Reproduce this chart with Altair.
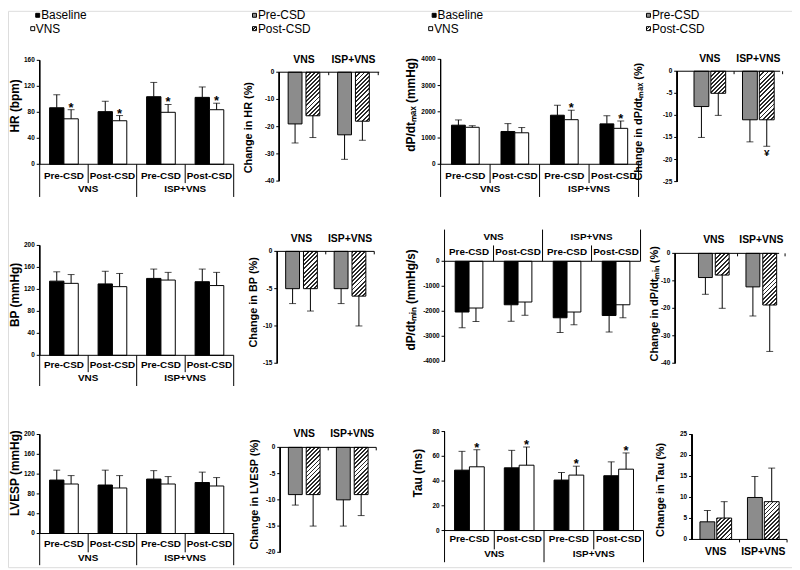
import altair as alt
import pandas as pd

FONT = "Liberation Sans"
OX, OY = 8, 8  # page margin -> view coordinates

# ---------------- categories ----------------
slots = ["VNS Pre-CSD", "VNS Post-CSD", "ISP+VNS Pre-CSD", "ISP+VNS Post-CSD"]
slot_phase = ["Pre-CSD", "Post-CSD", "Pre-CSD", "Post-CSD"]
group_names = ["VNS", "ISP+VNS"]
group_first_slot = ["VNS Pre-CSD", "ISP+VNS Pre-CSD"]
conds = ["Baseline", "VNS"]
phases = ["Pre-CSD", "Post-CSD"]

# ---------------- HR ----------------
hr_base = [87, 81, 104, 103]
hr_base_err = [107, 97, 126, 119]
hr_vns = [70, 67, 80, 84]
hr_vns_err = [84, 75, 92, 94]
hr_star = [1, 1, 1, 1]
hr_ticks = [0, 40, 80, 120, 160]
hr_chg_pre = [-19, -23]
hr_chg_pre_err = [-26, -32]
hr_chg_post = [-16, -18]
hr_chg_post_err = [-24, -25]
hr_chg_ticks = [0, -10, -20, -30, -40]

# ---------------- dP/dt max ----------------
dpmax_base = [1490, 1250, 1870, 1540]
dpmax_base_err = [1690, 1550, 2250, 1850]
dpmax_vns = [1410, 1200, 1700, 1370]
dpmax_vns_err = [1470, 1400, 2060, 1650]
dpmax_star = [0, 0, 1, 1]
dpmax_ticks = [0, 1000, 2000, 3000, 4000]
dpmax_chg_pre = [-8, -11]
dpmax_chg_pre_err = [-15, -16]
dpmax_chg_post = [-5, -11]
dpmax_chg_post_err = [-10, -17]
dpmax_chg_mark = ["", "¥"]
dpmax_chg_ticks = [0, -5, -10, -15, -20, -25]

# ---------------- BP ----------------
bp_base = [135, 130, 140, 134]
bp_base_err = [152, 153, 157, 157]
bp_vns = [131, 125, 137, 127]
bp_vns_err = [147, 149, 151, 151]
bp_star = [0, 0, 0, 0]
bp_ticks = [0, 40, 80, 120, 160, 200]
bp_chg_pre = [-5, -5]
bp_chg_pre_err = [-7, -7]
bp_chg_post = [-5, -6]
bp_chg_post_err = [-8, -10]
bp_chg_ticks = [0, -5, -10, -15]

# ---------------- dP/dt min ----------------
dpmin_base = [-2030, -1740, -2260, -2170]
dpmin_base_err = [-2660, -2400, -2850, -2830]
dpmin_vns = [-1870, -1630, -2030, -1740]
dpmin_vns_err = [-2410, -2160, -2540, -2260]
dpmin_star = [0, 0, 0, 0]
dpmin_ticks = [0, -1000, -2000, -3000, -4000]
dpmin_chg_pre = [-8.8, -12.2]
dpmin_chg_pre_err = [-14.9, -22.8]
dpmin_chg_post = [-7.9, -18.8]
dpmin_chg_post_err = [-20, -35.7]
dpmin_chg_ticks = [0, -10, -20, -30, -40]

# ---------------- LVESP ----------------
lv_base = [108, 98, 110, 103]
lv_base_err = [128, 128, 127, 124]
lv_vns = [100, 92, 100, 96]
lv_vns_err = [117, 117, 115, 113]
lv_star = [0, 0, 0, 0]
lv_ticks = [0, 40, 80, 120, 160, 200]
lv_chg_pre = [-9, -10]
lv_chg_pre_err = [-11, -15]
lv_chg_post = [-9, -9]
lv_chg_post_err = [-15, -13]
lv_chg_ticks = [0, -5, -10, -15, -20]

# ---------------- Tau ----------------
tau_base = [48.8, 50.7, 40.8, 44.3]
tau_base_err = [64, 64.8, 46.9, 55.5]
tau_vns = [51.5, 52.8, 44.8, 49.6]
tau_vns_err = [65.3, 67.5, 52, 62.7]
tau_star = [1, 1, 1, 1]
tau_ticks = [0, 20, 40, 60, 80]
tau_chg_pre = [4.2, 10]
tau_chg_pre_err = [6.9, 15]
tau_chg_post = [5.1, 9]
tau_chg_post_err = [9, 17]
tau_chg_ticks = [0, 5, 10, 15, 20, 25]

legend_main = ["Baseline", "VNS"]
legend_chg = ["Pre-CSD", "Post-CSD"]

GRAY = "#8c8c8c"


def hatch_gradient(w, h, period=3.0, dark="#2a2a2a", light="#ffffff", frac=0.45):
    L = (w + h) / 2 ** 0.5
    n = max(1, int(round(L / period)))
    stops = []
    for i in range(n):
        a, b, c = i / n, (i + frac) / n, (i + 1) / n
        stops += [alt.GradientStop(color=dark, offset=a), alt.GradientStop(color=dark, offset=b),
                  alt.GradientStop(color=light, offset=b), alt.GradientStop(color=light, offset=c)]
    k = (w + h) / (w * w + h * h)
    return alt.LinearGradient(gradient="linear", stops=stops, x1=0, y1=0, x2=w * k, y2=h * k)


def axis_layers(g, ys, ticks, title_fs):
    ax = g["axis_x"] - OX
    tv = pd.DataFrame({"v": ticks, "lab": [str(t) for t in ticks]})
    Yv = alt.Y("v:Q", scale=ys, axis=None)
    out = []
    out.append(alt.Chart(tv).mark_rule(color="black", strokeWidth=1).encode(
        x=alt.value(ax), y=alt.YDatum(g["ydom"][0], type="quantitative", scale=ys, axis=None),
        y2=alt.datum(g["ydom"][1])))
    out.append(alt.Chart(tv).mark_rule(color="black", strokeWidth=1).encode(
        x=alt.value(ax - 3), x2=alt.value(ax), y=Yv))
    out.append(alt.Chart(tv).mark_text(align="right", baseline="middle", font=FONT, fontSize=6.5,
                                       fontWeight="bold", color="black").encode(
        x=alt.value(ax - 5), y=Yv, text="lab:N"))
    out.append(alt.Chart(pd.DataFrame({"t": [g["title"]]})).mark_text(
        angle=270, align="center", baseline="middle", font=FONT, fontSize=title_fs, fontWeight="bold",
        color="black").encode(x=alt.value(g["tx"] - OX), y=alt.value(g["ty"] - OY), text="t:N"))
    return out


def make_main(base, base_err, vns, vns_err, star, ticks, g):
    rows = []
    for i in range(4):
        rows.append({"slot": slots[i], "cond": conds[0], "value": base[i], "err": base_err[i], "star": 0})
        rows.append({"slot": slots[i], "cond": conds[1], "value": vns[i], "err": vns_err[i], "star": star[i]})
    df = pd.DataFrame(rows)
    xs = alt.Scale(domain=slots, range=[g["x0"] - OX, g["x1"] - OX], paddingInner=0, paddingOuter=0)
    ys = alt.Scale(domain=g["ydom"], range=[g["ypx"][0] - OY, g["ypx"][1] - OY], nice=False, zero=False)
    xo = alt.XOffset("cond:N", scale=alt.Scale(domain=conds, paddingInner=0, paddingOuter=g["po"]))

    def X(field="slot", bp=None):
        kw = dict(scale=xs, axis=None, title=None)
        if bp is not None:
            kw["bandPosition"] = bp
        return alt.X(f"{field}:N", **kw)

    YD0 = alt.YDatum(0, type="quantitative", scale=ys, axis=None)
    layers = []
    layers.append(alt.Chart(df).transform_filter(alt.datum.cond == conds[0]).mark_bar(
        fill="black", stroke="black", strokeWidth=1).encode(
        x=X(), xOffset=xo, y=alt.Y("value:Q", scale=ys, axis=None), y2=alt.datum(0)))
    layers.append(alt.Chart(df).transform_filter(alt.datum.cond == conds[1]).mark_bar(
        fill="white", stroke="black", strokeWidth=1).encode(
        x=X(), xOffset=xo, y=alt.Y("value:Q", scale=ys, axis=None), y2=alt.datum(0)))
    layers.append(alt.Chart(df).mark_rule(color="black", strokeWidth=1).encode(
        x=X(), xOffset=xo, y=alt.Y("value:Q", scale=ys, axis=None), y2="err:Q"))
    layers.append(alt.Chart(df).mark_tick(color="black", thickness=1, size=7, orient="horizontal").encode(
        x=X(), xOffset=xo, y=alt.Y("err:Q", scale=ys, axis=None)))
    layers.append(alt.Chart(df).transform_filter(alt.datum.star == 1).mark_text(
        text="*", font=FONT, fontSize=13, fontWeight="bold", baseline="alphabetic", dy=2, color="black").encode(
        x=X(), xOffset=xo, y=alt.Y("err:Q", scale=ys, axis=None)))
    # zero line
    layers.append(alt.Chart(pd.DataFrame({"slot": slots[:1]})).mark_rule(color="black", strokeWidth=1).encode(
        y=YD0, x=alt.value(g["x0"] - OX), x2=alt.value(g["x1"] - OX)))
    # category table
    lab = pd.DataFrame({"slot": slots, "phase": slot_phase})
    layers.append(alt.Chart(lab).mark_text(font=FONT, fontSize=10, fontWeight="bold", baseline="middle",
                                           color="black").encode(
        x=X(), y=alt.value(g["lab_y"] - OY), text="phase:N"))
    grp = pd.DataFrame({"slot": group_first_slot, "group": group_names})
    layers.append(alt.Chart(grp).mark_text(font=FONT, fontSize=10, fontWeight="bold", baseline="middle",
                                           color="black").encode(
        x=X(bp=1), y=alt.value(g["grp_y"] - OY), text="group:N"))
    layers.append(alt.Chart(pd.DataFrame({"slot": [slots[1], slots[3]]})).mark_rule(
        color="black", strokeWidth=1).encode(x=X(bp=0), y=YD0, y2=alt.value(g["short_end"] - OY)))
    layers.append(alt.Chart(pd.DataFrame({"slot": [slots[0], slots[2]]})).mark_rule(
        color="black", strokeWidth=1).encode(x=X(bp=0), y=YD0, y2=alt.value(g["full_end"] - OY)))
    layers.append(alt.Chart(pd.DataFrame({"slot": [slots[3]]})).mark_rule(
        color="black", strokeWidth=1).encode(x=X(bp=1), y=YD0, y2=alt.value(g["full_end"] - OY)))
    layers += axis_layers(g, ys, ticks, 12)
    return alt.layer(*layers)


def make_change(pre, pre_err, post, post_err, ticks, g, marks=None):
    rows = []
    for i in range(2):
        rows.append({"group": group_names[i], "phase": phases[0], "value": pre[i], "err": pre_err[i], "mark": ""})
        rows.append({"group": group_names[i], "phase": phases[1], "value": post[i], "err": post_err[i],
                     "mark": marks[i] if marks else ""})
    df = pd.DataFrame(rows)
    xs = alt.Scale(domain=group_names, range=[g["b0"] - OX, g["b1"] - OX], paddingInner=0, paddingOuter=0)
    ys = alt.Scale(domain=g["ydom"], range=[g["ypx"][0] - OY, g["ypx"][1] - OY], nice=False, zero=False)
    xo = alt.XOffset("phase:N", scale=alt.Scale(domain=phases, paddingInner=g["pi"], paddingOuter=g["po"]))

    def X(bp=None):
        kw = dict(scale=xs, axis=None, title=None)
        if bp is not None:
            kw["bandPosition"] = bp
        return alt.X("group:N", **kw)

    YD0 = alt.YDatum(0, type="quantitative", scale=ys, axis=None)
    S = (g["b1"] - g["b0"]) / 2
    s = S / (2 - g["pi"] + 2 * g["po"])
    bw = s * (1 - g["pi"])
    pxu = abs(g["ypx"][0] - g["ypx"][1]) / abs(g["ydom"][1] - g["ydom"][0])
    zero_px = g["ypx"][0] + (0 - g["ydom"][0]) * (g["ypx"][1] - g["ypx"][0]) / (g["ydom"][1] - g["ydom"][0])

    layers = []
    layers.append(alt.Chart(df).transform_filter(alt.datum.phase == phases[0]).mark_bar(
        fill=GRAY, stroke="black", strokeWidth=1).encode(
        x=X(), xOffset=xo, y=alt.Y("value:Q", scale=ys, axis=None), y2=alt.datum(0)))
    for i in range(2):
        grad = hatch_gradient(bw, abs(post[i]) * pxu)
        layers.append(alt.Chart(df).transform_filter(
            (alt.datum.phase == phases[1]) & (alt.datum.group == group_names[i])).mark_bar(
            fill=grad, stroke="black", strokeWidth=1).encode(
            x=X(), xOffset=xo, y=alt.Y("value:Q", scale=ys, axis=None), y2=alt.datum(0)))
    layers.append(alt.Chart(df).mark_rule(color="black", strokeWidth=1).encode(
        x=X(), xOffset=xo, y=alt.Y("value:Q", scale=ys, axis=None), y2="err:Q"))
    layers.append(alt.Chart(df).mark_tick(color="black", thickness=1, size=7, orient="horizontal").encode(
        x=X(), xOffset=xo, y=alt.Y("err:Q", scale=ys, axis=None)))
    if marks:
        layers.append(alt.Chart(df).transform_filter(alt.datum.mark != "").mark_text(
            font=FONT, fontSize=10, fontWeight="bold", baseline="top", dy=2, color="black").encode(
            x=X(), xOffset=xo, y=alt.Y("err:Q", scale=ys, axis=None), text="mark:N"))
    layers.append(alt.Chart(pd.DataFrame({"group": group_names[:1]})).mark_rule(
        color="black", strokeWidth=1).encode(y=YD0, x=alt.value(g["l0"] - OX), x2=alt.value(g["l1"] - OX)))
    layers.append(alt.Chart(pd.DataFrame({"group": group_names[1:]})).mark_rule(
        color="black", strokeWidth=1).encode(x=X(bp=0), y=YD0, y2=alt.value(zero_px - OY + 3)))
    layers.append(alt.Chart(pd.DataFrame({"group": group_names[1:]})).mark_rule(
        color="black", strokeWidth=1).encode(x=X(bp=1), y=YD0, y2=alt.value(zero_px - OY + 3)))
    layers.append(alt.Chart(pd.DataFrame({"group": group_names})).mark_text(
        font=FONT, fontSize=10.5, fontWeight="bold", baseline="middle", color="black").encode(
        x=X(), y=alt.value(g["title_y"] - OY), text="group:N"))
    layers += axis_layers(g, ys, ticks, 11)
    return alt.layer(*layers)


G = {
    "p1": dict(x0=40, x1=236, axis_x=40, ydom=[0, 160], ypx=[163, 58], title="HR (bpm)", tx=15, ty=104,
               po=0.69, lab_y=175, grp_y=188, short_end=182, full_end=196),
    "p3": dict(x0=445, x1=645, axis_x=445, ydom=[0, 4000], ypx=[163, 57], title="dP/dtₘₐₓ (mmHg)",
               tx=415, ty=103, po=0.786, lab_y=175, grp_y=188, short_end=182, full_end=196),
    "p5": dict(x0=40, x1=236, axis_x=40, ydom=[0, 200], ypx=[356, 245], title="BP (mmHg)", tx=15, ty=295,
               po=0.69, lab_y=366, grp_y=379, short_end=373, full_end=387),
    "p7": dict(x0=449, x1=647, axis_x=449, ydom=[-4000, 0], ypx=[362, 261], title="dP/dtₘᵢₙ (mmHg/s)",
               tx=415.5, ty=300, po=0.77, lab_y=252, grp_y=237, short_end=245, full_end=229),
    "p9": dict(x0=40, x1=236, axis_x=40, ydom=[0, 200], ypx=[536, 436], title="LVESP (mmHg)", tx=15,
               ty=475, po=0.69, lab_y=547, grp_y=561, short_end=555, full_end=568),
    "p11": dict(x0=449, x1=650, axis_x=449, ydom=[0, 80], ypx=[533, 433], title="Tau (ms)", tx=422, ty=475,
                po=0.675, lab_y=542, grp_y=557, short_end=552, full_end=565),
    "p2": dict(axis_x=282, b0=282, b1=382, l0=282, l1=383, ydom=[-40, 0], ypx=[180, 70],
               title="Change in HR (%)", tx=251.5, ty=126, pi=0.222, po=0.5, title_y=58),
    "p4": dict(axis_x=684, b0=692.5, b1=790.5, l0=684, l1=788, ydom=[-25, 0], ypx=[180.5, 69],
               title="Change in dP/dtₘₐₓ (%)", tx=645, ty=120, pi=0.118, po=0.5, title_y=57),
    "p6": dict(axis_x=280, b0=280, b1=378, l0=280, l1=378, ydom=[-15, 0], ypx=[364, 251],
               title="Change in BP (%)", tx=257, ty=302.5, pi=0.222, po=0.472, title_y=239),
    "p8": dict(axis_x=682, b0=697, b1=793, l0=682, l1=787, ydom=[-40, 0], ypx=[364, 253],
               title="Change in dP/dtₘᵢₙ (%)", tx=662, ty=304, pi=0.176, po=0.5, title_y=240),
    "p10": dict(axis_x=283, b0=283, b1=380, l0=283, l1=380, ydom=[-20, 0], ypx=[555, 449],
                title="Change in LVESP (%)", tx=257.5, ty=496.5, pi=0.222, po=0.458, title_y=436),
    "p12": dict(axis_x=699, b0=699, b1=795, l0=699, l1=795, ydom=[0, 25], ypx=[542, 436],
                title="Change in Tau (%)", tx=668, ty=492, pi=0.118, po=0.471, title_y=555),
}

panels = [
    make_main(hr_base, hr_base_err, hr_vns, hr_vns_err, hr_star, hr_ticks, G["p1"]),
    make_change(hr_chg_pre, hr_chg_pre_err, hr_chg_post, hr_chg_post_err, hr_chg_ticks, G["p2"]),
    make_main(dpmax_base, dpmax_base_err, dpmax_vns, dpmax_vns_err, dpmax_star, dpmax_ticks, G["p3"]),
    make_change(dpmax_chg_pre, dpmax_chg_pre_err, dpmax_chg_post, dpmax_chg_post_err, dpmax_chg_ticks,
                G["p4"], dpmax_chg_mark),
    make_main(bp_base, bp_base_err, bp_vns, bp_vns_err, bp_star, bp_ticks, G["p5"]),
    make_change(bp_chg_pre, bp_chg_pre_err, bp_chg_post, bp_chg_post_err, bp_chg_ticks, G["p6"]),
    make_main(dpmin_base, dpmin_base_err, dpmin_vns, dpmin_vns_err, dpmin_star, dpmin_ticks, G["p7"]),
    make_change(dpmin_chg_pre, dpmin_chg_pre_err, dpmin_chg_post, dpmin_chg_post_err, dpmin_chg_ticks,
                G["p8"]),
    make_main(lv_base, lv_base_err, lv_vns, lv_vns_err, lv_star, lv_ticks, G["p9"]),
    make_change(lv_chg_pre, lv_chg_pre_err, lv_chg_post, lv_chg_post_err, lv_chg_ticks, G["p10"]),
    make_main(tau_base, tau_base_err, tau_vns, tau_vns_err, tau_star, tau_ticks, G["p11"]),
    make_change(tau_chg_pre, tau_chg_pre_err, tau_chg_post, tau_chg_post_err, tau_chg_ticks, G["p12"]),
]


def legend_item(label, sq_x, sq_y, fill, tx_x, tx_y):
    d = pd.DataFrame({"label": [label]})
    sq = alt.Chart(d).mark_square(size=16, fill=fill, stroke="black", strokeWidth=1, opacity=1).encode(
        x=alt.value(sq_x - OX), y=alt.value(sq_y - OY))
    tx = alt.Chart(d).mark_text(font=FONT, fontSize=12, align="left", baseline="middle", color="black").encode(
        x=alt.value(tx_x - OX), y=alt.value(tx_y - OY), text="label:N")
    return [sq, tx]


hatch_small = hatch_gradient(4, 4, period=2.2)
legends = []
legends += legend_item(legend_main[0], 38, 12.5, "black", 41.5, 12.5)
legends += legend_item(legend_main[1], 33, 26, "white", 36, 26)
legends += legend_item(legend_chg[0], 257, 12.5, GRAY, 260.5, 12.5)
legends += legend_item(legend_chg[1], 257, 26, hatch_small, 260.5, 26)
legends += legend_item(legend_main[0], 438.5, 12.5, "black", 442, 12.5)
legends += legend_item(legend_main[1], 435, 26, "white", 438.5, 26)
legends += legend_item(legend_chg[0], 655, 12.5, GRAY, 658.5, 12.5)
legends += legend_item(legend_chg[1], 655, 26, hatch_small, 658.5, 26)

chart = alt.layer(*panels, *legends).resolve_scale(
    x="independent", y="independent", xOffset="independent"
).properties(
    width=792, height=562, padding=0, autosize=alt.AutoSizeParams(type="none")
).configure_view(strokeOpacity=0).configure(background="white")

chart.save("out.html", embed_options={"renderer": "svg", "actions": False})
